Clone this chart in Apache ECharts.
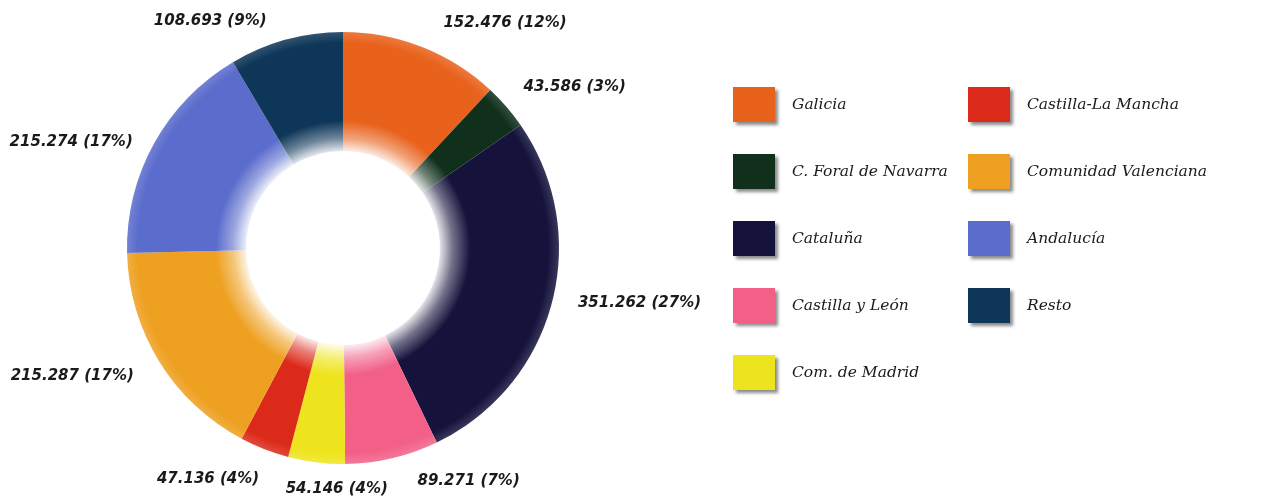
<!DOCTYPE html>
<html>
<head>
<meta charset="utf-8">
<title>Distribución por comunidades</title>
<script src="https://cdn.jsdelivr.net/npm/echarts@6/dist/echarts.min.js"></script>
<style>
    html, body { margin: 0; padding: 0; background: #ffffff; }
    #chart { width: 1267px; height: 497px; }
</style>
</head>
<body>
<div id="chart"></div>
<script>
    // datos
    const regions = ['Galicia', 'C. Foral de Navarra', 'Cataluña', 'Castilla y León', 'Com. de Madrid',
                     'Castilla-La Mancha', 'Comunidad Valenciana', 'Andalucía', 'Resto'];
    const values = [152476, 43586, 351262, 89271, 54146, 47136, 215287, 215274, 108693];
    const percents = [12, 3, 27, 7, 4, 4, 17, 17, 9];

    const colors = ['#e8621c', '#10301c', '#15133c', '#f26088', '#eee41e', '#dc2a1a', '#eea020', '#5a6ccc', '#0e3658'];

    // las etiquetas del original están colocadas a mano: pequeño ajuste [dx, dy]
    const labelNudge = [[-4, 2], [-19, -1], [-16, -7], [4, -5], [90, 1], [22, 8], [10, 3], [13, 13], [3, 8]];

    const center = [343, 248];
    const radius = [97, 216];

    function format(value) {
        return (value + '').replace(/\B(?=(\d{3})+(?!\d))/g, '.');
    }

    function mix(hex, white) {
        const n = parseInt(hex.slice(1), 16);
        const r = (n >> 16) & 255, g = (n >> 8) & 255, b = n & 255;
        const f = c => Math.round(c + (255 - c) * white);
        return 'rgb(' + f(r) + ',' + f(g) + ',' + f(b) + ')';
    }

    function shade(hex) {
        const k = radius[0] / radius[1];
        return {
            type: 'radial',
            x: center[0],
            y: center[1],
            r: radius[1],
            global: true,
            colorStops: [
                { offset: 0, color: '#ffffff' },
                { offset: k, color: mix(hex, 0.88) },
                { offset: k + 0.06, color: mix(hex, 0.4) },
                { offset: k + 0.14, color: hex },
                { offset: 0.95, color: hex },
                { offset: 1, color: mix(hex, 0.15) }
            ]
        };
    }

    const pieData = regions.map((name, i) => ({
        name: name,
        value: values[i],
        pct: percents[i],
        itemStyle: { color: shade(colors[i]) }
    }));

    const legendText = {
        fontFamily: 'DejaVu Serif',
        fontStyle: 'italic',
        fontSize: 15.5,
        color: '#1a1a1a',
        padding: [0, 0, 0, 12]
    };

    const legendItem = (name) => ({
        name: name,
        itemStyle: {
            color: colors[regions.indexOf(name)],
            shadowBlur: 3,
            shadowColor: 'rgba(0,0,0,0.45)',
            shadowOffsetX: 3,
            shadowOffsetY: 3
        }
    });

    const legendBase = {
        orient: 'vertical',
        top: 87,
        padding: 0,
        icon: 'rect',
        itemWidth: 42,
        itemHeight: 35,
        itemGap: 32,
        selectedMode: false,
        textStyle: legendText
    };

    const option = {
        animation: false,
        legend: [
            Object.assign({}, legendBase, { left: 733, data: regions.slice(0, 5).map(legendItem) }),
            Object.assign({}, legendBase, { left: 968, data: regions.slice(5).map(legendItem) })
        ],
        series: [{
            type: 'pie',
            center: center,
            radius: radius,
            startAngle: 90,
            clockwise: true,
            silent: true,
            label: {
                show: true,
                position: 'outside',
                overflow: 'none',
                formatter: p => format(p.value) + ' (' + p.data.pct + '%)',
                fontFamily: 'DejaVu Sans',
                fontWeight: 'bold',
                fontStyle: 'italic',
                fontSize: 15,
                color: '#1a1a1a'
            },
            labelLine: {
                show: false,
                length: 28,
                length2: 10
            },
            labelLayout: p => ({ dx: labelNudge[p.dataIndex][0], dy: labelNudge[p.dataIndex][1] }),
            data: pieData
        }]
    };

    echarts.init(document.getElementById('chart')).setOption(option);
</script>
</body>
</html>
